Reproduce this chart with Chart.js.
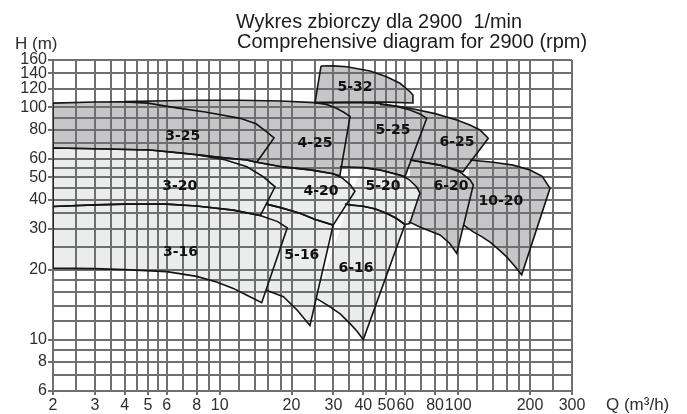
<!DOCTYPE html>
<html>
<head>
<meta charset="utf-8">
<title>Wykres zbiorczy</title>
<script src="https://cdn.jsdelivr.net/npm/chart.js@4.4.1/dist/chart.umd.min.js"></script>
<style>
  body { margin: 0; background: #fff; }
  canvas { display: block; }
</style>
</head>
<body>
<canvas id="wykres" width="687" height="414"></canvas>
<script>
// siatka osi (log-log)
const qGrid = [2,2.5,3,3.5,4,4.5,5,5.5,6,7,8,9,10,12,14,16,18,20,25,30,35,40,45,50,55,60,70,80,90,100,120,140,160,180,200,250,300];
const qLabels = [2,3,4,5,6,8,10,20,30,40,50,60,80,100,200,300];
const hGrid = [6,7,8,9,10,12,14,16,18,20,25,30,35,40,45,50,55,60,70,80,90,100,120,140,160];
const hLabels = [6,8,10,20,30,40,50,60,80,100,120,140,160];

// pola pracy pomp, punkty [Q m3/h, H m]
const pump10_20 = [[104.7,60],[112,59.3],[140,58],[170,56.4],[200,53.7],[225,50.5],[242.6,44.8],[184.6,19],[172,20.8],[159.7,22.7],[146,24.7],[136,26.3],[125,27.8],[115.7,29.1],[105.3,31.1]];
const pump6_20 = [[55,60.2],[62.8,59.3],[83.9,56.4],[101.7,52.7],[112,48.7],[115.7,46.3],[98.6,23.5],[92,26],[83.9,28.2],[69.8,30.4],[62,32.2]];
const pump6_25 = [[47,103],[55,101.3],[62.8,99.1],[80,94],[98.6,88.2],[112,84],[123.4,79.9],[133.7,73.6],[104.7,52.8],[83.9,56.4],[62.8,59.3],[50,60.5]];
const pump6_16 = [[34.5,38],[40,37.5],[45,36.5],[50,35],[55,33.3],[59.8,31.3],[40,10],[37.5,10.9],[35.2,11.7],[32,12.9],[28.5,14],[25.5,15]];
const pump5_20 = [[31.9,55.5],[40,55],[47,53.7],[57,51.1],[62,49],[66.9,45.5],[69.1,42.7],[62.6,31.6],[59.8,31.3],[55,33.3],[50,35],[45,36.5],[40,37.5],[36,38],[33.5,38.3]];
const pump5_25 = [[25,104.8],[35,105],[45.7,104.2],[54.3,101.3],[62.8,97.4],[69.1,93.7],[73.8,89.7],[59.8,50.4],[47,53.7],[40,55],[31.9,55.5]];
const pump5_32 = [[26.6,150.8],[30,151],[34.1,149.7],[42.7,143.5],[50.1,135.6],[57,127],[62.8,116.8],[64.6,113],[64.6,104.4],[50,105.3],[40,105.4],[25.1,104.8]];
const pump5_16 = [[15.7,38.3],[18,37],[21.7,35],[25,33],[29.9,31.1],[23.9,11.5],[21.1,13.4],[18.5,15.3],[15.7,16.3]];
const pump4_20 = [[8,62.6],[9.74,61.1],[13,59.3],[14.3,58],[18.4,55.4],[24,53.8],[29.9,51.8],[32.5,49.8],[35.2,46.5],[36.9,43.5],[29.9,31.1],[25,33],[21.7,35],[18,37],[15.7,38.3]];
const pump4_25 = [[4,105.9],[6,106.8],[8,107.3],[12,107.3],[18,106.5],[25,104.8],[28,103],[30.7,99.4],[33,95.5],[35.2,91.4],[31.9,50.8],[29.9,51.8],[24,53.8],[18.4,55.4],[14.3,58]];
const pump3_16 = [[2,37.4],[3,38],[4,38.3],[6,38.3],[8,37.6],[11.4,36.1],[14.8,34.2],[17.5,32.2],[19.2,30.3],[15,14.4],[13,15.5],[11.4,16.6],[9.7,17.7],[8,18.7],[6,19.6],[4,20],[3,20.2],[2,20.3]];
const pump3_20 = [[2,66.8],[3,66.3],[5.1,65.5],[8,62.5],[10.5,59.5],[13,55.5],[15.2,50.3],[17.06,45.5],[14.8,34.2],[11.4,36.1],[8,37.6],[6,38.3],[4,38.3],[3,38],[2,37.4]];
const pump3_25 = [[2,104.3],[3,105.5],[4,105.6],[5,104.3],[6.6,99.5],[8.7,95.5],[12.2,89.7],[14.2,85],[15.7,78.6],[16.9,73.8],[14.3,58],[13,59.3],[9.74,61.1],[7,63.5],[5.1,65.5],[3,66.3],[2,66.8]];

// kolejnosc rysowania: od spodu do wierzchu
const names = ['10-20','6-20','6-25','6-16','5-20','5-25','5-32','5-16','4-20','4-25','3-16','3-20','3-25'];
const fields = [pump10_20,pump6_20,pump6_25,pump6_16,pump5_20,pump5_25,pump5_32,pump5_16,pump4_20,pump4_25,pump3_16,pump3_20,pump3_25];
const labelQ = [151,93.3,98.9,37.3,48.4,53.3,36.9,22.1,26.6,25.1,6.85,6.8,7.0];
const labelH = [39.5,45.8,70.9,20.3,45.8,79.9,122.4,23.1,43.6,70.2,23.8,45.8,75.3];
const dark = ['10-20','6-20','6-25','5-25','5-32','4-25','3-25'];
// krawedzie zasloniete przez sasiednie pola (nie obrysowywane)
const hiddenEdges = {'10-20':[0,14], '6-20':[0,10], '6-25':[10,11], '6-16':[11], '5-20':[0,14], '5-25':[10], '5-16':[8], '4-20':[14], '4-25':[14]};

const gridColor = '#6f6f6f';
const textColor = '#2e2e2e';
const noLine = 'rgba(0,0,0,0)';

const datasets = names.map((n, i) => ({
  label: n,
  data: fields[i].concat([fields[i][0]]).map(p => ({x: p[0], y: p[1]})),
  fill: 'shape',
  backgroundColor: dark.includes(n) ? '#c6c6c8' : '#ebecec',
  borderColor: '#151515',
  borderWidth: 1.6,
  pointRadius: 0,
  tension: 0,
  segment: {
    borderColor: c => (hiddenEdges[n] || []).includes(c.p0DataIndex) ? noLine : undefined
  },
  order: names.length - i
}));

const texts = {
  id: 'teksty',
  afterDraw(chart) {
    const ctx = chart.ctx;
    const sx = chart.scales.x, sy = chart.scales.y;
    ctx.save();
    ctx.fillStyle = '#1c1c1c';
    ctx.textBaseline = 'alphabetic';
    ctx.font = '20px "Liberation Sans"';
    ctx.fillText('Wykres zbiorczy dla 2900  1/min', 236, 28, 286);
    ctx.fillText('Comprehensive diagram for 2900 (rpm)', 237, 48, 361);
    ctx.font = '17px "Liberation Sans"';
    ctx.fillStyle = textColor;
    ctx.fillText('H (m)', 15, 49);
    ctx.fillText('Q (m³/h)', 606, 410);
    ctx.font = 'bold 14px "DejaVu Sans"';
    ctx.fillStyle = '#111';
    ctx.textAlign = 'center';
    ctx.textBaseline = 'middle';
    names.forEach((n, i) => {
      ctx.fillText(n, sx.getPixelForValue(labelQ[i]), sy.getPixelForValue(labelH[i]));
    });
    ctx.restore();
  }
};

new Chart(document.getElementById('wykres'), {
  type: 'line',
  data: {datasets: datasets},
  options: {
    responsive: false,
    animation: false,
    layout: {padding: {left: 0, right: 115, top: 60, bottom: 0}},
    plugins: {
      legend: {display: false},
      tooltip: {enabled: false},
      filler: {drawTime: 'beforeDraw'}
    },
    scales: {
      x: {
        type: 'logarithmic', min: 2, max: 300,
        afterBuildTicks: s => { s.ticks = qGrid.map(v => ({value: v})); },
        afterFit: s => { s.height = 23; },
        ticks: {
          autoSkip: false, maxRotation: 0, minRotation: 0, padding: 1,
          color: textColor, font: {family: 'Liberation Sans', size: 16},
          callback: v => qLabels.includes(v) ? String(v) : ''
        },
        grid: {
          color: gridColor, lineWidth: 2, tickLength: 4,
          tickColor: c => (c.tick && qLabels.includes(c.tick.value)) ? gridColor : noLine
        },
        border: {color: gridColor, width: 2}
      },
      y: {
        type: 'logarithmic', min: 6, max: 160,
        afterBuildTicks: s => { s.ticks = hGrid.map(v => ({value: v})); },
        afterFit: s => { s.width = 53; },
        ticks: {
          autoSkip: false, padding: 1,
          color: textColor, font: {family: 'Liberation Sans', size: 16},
          callback: v => hLabels.includes(v) ? String(v) : ''
        },
        grid: {
          color: gridColor, lineWidth: 2, tickLength: 5,
          tickColor: c => (c.tick && hLabels.includes(c.tick.value)) ? gridColor : noLine
        },
        border: {color: gridColor, width: 2}
      }
    }
  },
  plugins: [texts]
});
</script>
</body>
</html>
